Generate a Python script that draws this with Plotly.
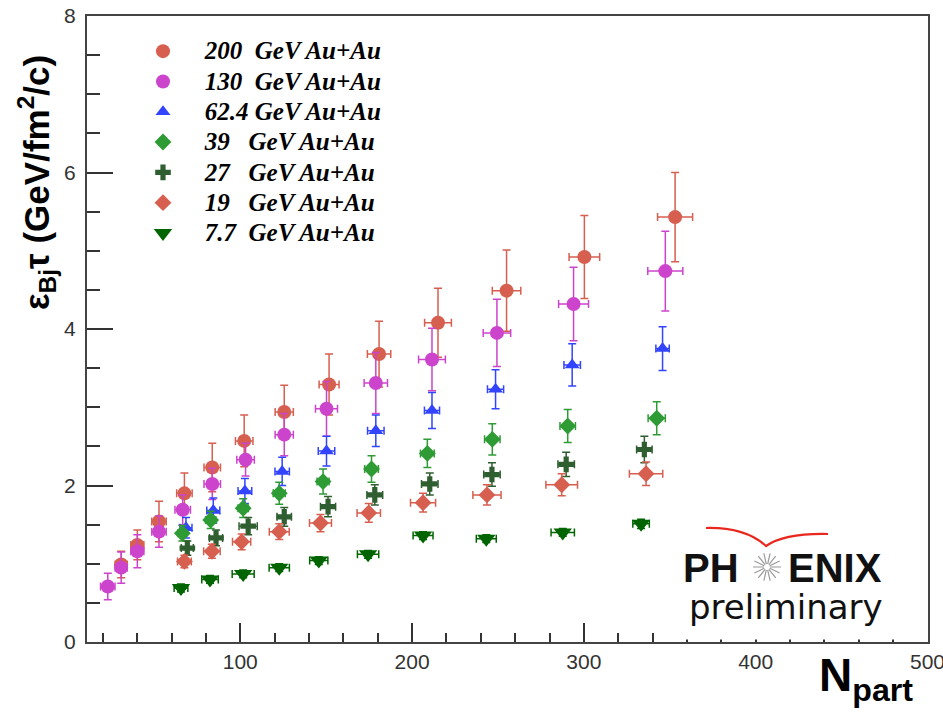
import math
import plotly.graph_objects as go

# ---------------- data ----------------
labels = ["200\u00a0\u00a0GeV Au+Au", "130\u00a0\u00a0GeV Au+Au", "62.4 GeV Au+Au",
          "39\u00a0\u00a0\u00a0GeV Au+Au", "27\u00a0\u00a0\u00a0GeV Au+Au",
          "19\u00a0\u00a0\u00a0GeV Au+Au", "7.7\u00a0\u00a0GeV Au+Au"]

npart_200 = [30.7, 40.1, 52.7, 67.5, 83.7, 102.3, 125.6, 151.7, 180.8, 215.1, 255.0, 300.3, 353.1]
eps_200 = [0.99, 1.24, 1.54, 1.90, 2.23, 2.57, 2.94, 3.29, 3.68, 4.08, 4.49, 4.92, 5.43]
eps_err_200 = [0.17, 0.19, 0.26, 0.26, 0.31, 0.33, 0.34, 0.39, 0.42, 0.44, 0.52, 0.53, 0.57]
npart_err_200 = [3.5, 3.8, 4.2, 4.5, 4.8, 5.1, 5.3, 5.8, 6.8, 7.8, 8.3, 8.9, 10.2]

npart_130 = [22.9, 30.7, 40.1, 52.7, 66.5, 83.7, 103.1, 125.6, 150.2, 178.9, 211.6, 249.4, 294.0, 347.4]
eps_130 = [0.71, 0.95, 1.16, 1.41, 1.69, 2.02, 2.33, 2.65, 2.98, 3.31, 3.61, 3.95, 4.32, 4.74]
eps_err_130 = [0.17, 0.20, 0.21, 0.20, 0.19, 0.20, 0.21, 0.27, 0.35, 0.39, 0.40, 0.43, 0.47, 0.51]
npart_err_130 = [4.2, 3.5, 3.8, 4.2, 4.5, 4.8, 5.1, 5.3, 6.4, 6.8, 7.8, 8.0, 8.7, 10.2]

npart_62 = [68.4, 84.3, 102.7, 124.4, 150.2, 178.9, 211.6, 248.6, 293.2, 345.8]
eps_62 = [1.46, 1.68, 1.93, 2.18, 2.44, 2.70, 2.96, 3.23, 3.54, 3.75]
eps_err_62 = [0.13, 0.16, 0.16, 0.18, 0.19, 0.20, 0.23, 0.25, 0.27, 0.28]
npart_err_62 = [3.5, 3.8, 4.0, 4.2, 4.8, 4.8, 4.4, 4.7, 4.8, 3.9]

npart_39 = [66.3, 82.8, 101.7, 122.7, 148.2, 176.4, 208.9, 246.7, 290.6, 342.4]
eps_39 = [1.39, 1.56, 1.71, 1.90, 2.05, 2.21, 2.41, 2.59, 2.76, 2.86]
eps_err_39 = [0.10, 0.11, 0.12, 0.14, 0.16, 0.17, 0.18, 0.20, 0.21, 0.21]
npart_err_39 = [2.5, 3.0, 3.0, 3.5, 3.5, 4.0, 4.0, 4.5, 4.5, 5.0]

npart_27 = [69.2, 85.9, 104.6, 125.6, 151.1, 178.3, 210.3, 246.5, 289.7, 335.2]
eps_27 = [1.20, 1.33, 1.48, 1.60, 1.73, 1.88, 2.02, 2.14, 2.27, 2.46]
eps_err_27 = [0.09, 0.10, 0.11, 0.12, 0.13, 0.13, 0.14, 0.15, 0.155, 0.17]
npart_err_27 = [3.5, 3.8, 5.3, 4.2, 4.4, 4.6, 4.8, 4.8, 4.8, 4.5]

npart_19 = [67.5, 83.5, 100.8, 122.7, 146.7, 174.8, 206.4, 243.6, 287.1, 336.2]
eps_19 = [1.03, 1.16, 1.28, 1.41, 1.52, 1.65, 1.78, 1.88, 2.01, 2.15]
eps_err_19 = [0.08, 0.09, 0.10, 0.10, 0.11, 0.12, 0.12, 0.13, 0.14, 0.15]
npart_err_19 = [4.0, 4.8, 5.3, 5.8, 6.4, 6.8, 7.3, 8.2, 9.2, 9.7]

npart_7 = [65.5, 82.4, 101.7, 122.7, 145.7, 174.4, 206.4, 243.2, 287.7, 333.3]
eps_7 = [0.69, 0.80, 0.87, 0.95, 1.04, 1.12, 1.36, 1.32, 1.40, 1.51]
eps_err_7 = [0.05, 0.05, 0.05, 0.05, 0.05, 0.05, 0.05, 0.05, 0.05, 0.06]
npart_err_7 = [4.0, 4.8, 6.4, 5.9, 5.3, 6.2, 5.8, 5.8, 6.8, 4.8]

x_ticks = [100, 200, 300, 400, 500]
y_ticks = [0, 2, 4, 6, 8]

# ---------------- styling ----------------
series = [
    (npart_200, eps_200, npart_err_200, eps_err_200, labels[0], "circle", 14, "#D65F50"),
    (npart_130, eps_130, npart_err_130, eps_err_130, labels[1], "circle", 14, "#CC44CC"),
    (npart_62, eps_62, npart_err_62, eps_err_62, labels[2], "triangle-up", 13, "#3344FF"),
    (npart_39, eps_39, npart_err_39, eps_err_39, labels[3], "diamond", 13, "#2E9B35"),
    (npart_27, eps_27, npart_err_27, eps_err_27, labels[4], "cross", 13, "#2F5F30"),
    (npart_19, eps_19, npart_err_19, eps_err_19, labels[5], "diamond", 13, "#D65F50"),
    (npart_7, eps_7, npart_err_7, eps_err_7, labels[6], "triangle-down", 16, "#006400"),
]

# pixel -> paper helpers (plot area: x 87..928, y 16..642)
L, R, T, B = 87, 928, 16, 642
def px(x):
    return (x - L) / (R - L)
def py(y):
    return (B - y) / (B - T)

GAP = "<span style='font-size:29px'>\u00a0\u00a0\u00a0</span>"

fig = go.Figure()
for xs, ys, xe, ye, name, sym, size, col in series:
    fig.add_trace(go.Scatter(
        x=xs, y=ys, mode="markers",
        name=GAP + "<span style='font-size:25px'>" + name + "</span>",
        marker=dict(symbol=sym, size=size, color=col, line=dict(width=0)),
        error_x=dict(type="data", array=xe, visible=True, color=col, thickness=1.5, width=4),
        error_y=dict(type="data", array=ye, visible=True, color=col, thickness=1.5, width=4),
    ))

axis_common = dict(
    showline=True, linecolor="#444444", linewidth=2, mirror=True,
    showgrid=False, zeroline=False, ticks="inside", tickcolor="#333333", tickwidth=1.5,
    tickfont=dict(family="Liberation Sans, Arial", size=21, color="#333333"),
    ticklabeloverflow="allow", automargin=False,
)

fig.update_layout(
    width=943, height=716,
    margin=dict(l=L, r=943 - R, t=T, b=716 - B, autoexpand=False),
    paper_bgcolor="white", plot_bgcolor="white",
    xaxis=dict(range=[10.8, 500.3], tickvals=x_ticks, ticklen=19,
               minor=dict(dtick=20, tick0=0, ticks="inside", ticklen=9, tickcolor="#333333",
                          tickwidth=1.5, showgrid=False),
               ticklabelstandoff=0, **axis_common),
    yaxis=dict(range=[0, 8], tickvals=y_ticks, ticklen=26,
               minor=dict(dtick=0.5, tick0=0, ticks="inside", ticklen=13, tickcolor="#333333",
                          tickwidth=1.5, showgrid=False),
               ticklabelstandoff=5, **axis_common),
    showlegend=True,
    legend=dict(x=px(143), y=py(31), xanchor="left", yanchor="top",
                bgcolor="rgba(0,0,0,0)", borderwidth=0, tracegroupgap=0,
                font=dict(family="Liberation Serif, Times New Roman", size=21, color="black",
                          style="italic", weight="bold")),
)

# axis titles
fig.add_annotation(xref="paper", yref="paper", x=px(37), y=py(183), xanchor="center", yanchor="middle",
                   textangle=-90, showarrow=False,
                   text="<b>ε<sub>Bj</sub>τ (GeV/fm<sup>2</sup>/c)</b>",
                   font=dict(family="Liberation Sans, Arial", size=35, color="black"))
fig.add_annotation(xref="paper", yref="paper", x=px(817), y=py(678), xanchor="left", yanchor="middle",
                   showarrow=False, text="<b>N<sub>part</sub></b>",
                   font=dict(family="Liberation Sans, Arial", size=46, color="black"))

# PHENIX preliminary logo: white patch hiding the axis ticks beneath it
fig.add_annotation(xref="paper", yref="paper", x=px(785), y=py(629.5), xanchor="center", yanchor="middle",
                   showarrow=False, text="\u00a0", width=230, height=19, bgcolor="white",
                   borderpad=0, font=dict(size=10))
arc = "M {} {} Q {} {} {} {} Q {} {} {} {}".format(
    px(706), py(528), px(745), py(527), px(766), py(546),
    px(785), py(533), px(828), py(534))
fig.add_shape(type="path", xref="paper", yref="paper", layer="above", path=arc,
              line=dict(color="#E8281E", width=2.2))
cx, cy = 767, 567
rays = ""
for k in range(14):
    a = 2 * math.pi * k / 14
    rays += "M {} {} L {} {} ".format(px(cx + 3 * math.cos(a)), py(cy + 3 * math.sin(a)),
                                     px(cx + 14 * math.cos(a)), py(cy + 14 * math.sin(a)))
fig.add_shape(type="path", xref="paper", yref="paper", layer="above", path=rays,
              line=dict(color="#9A9A9A", width=1.2))
fig.add_annotation(xref="paper", yref="paper", x=px(711), y=py(568), xanchor="center", yanchor="middle",
                   showarrow=False,
                   text="<b>PH</b>", font=dict(family="Liberation Sans, Arial", size=40, color="#111111"))
fig.add_annotation(xref="paper", yref="paper", x=px(835), y=py(568), xanchor="center", yanchor="middle",
                   showarrow=False,
                   text="<b>ENIX</b>", font=dict(family="Liberation Sans, Arial", size=40, color="#111111"))
fig.add_annotation(xref="paper", yref="paper", x=px(786), y=py(607), xanchor="center", yanchor="middle",
                   showarrow=False,
                   text="preliminary", font=dict(family="DejaVu Sans", size=34, color="#111111"))

fig.write_html("out.html")
